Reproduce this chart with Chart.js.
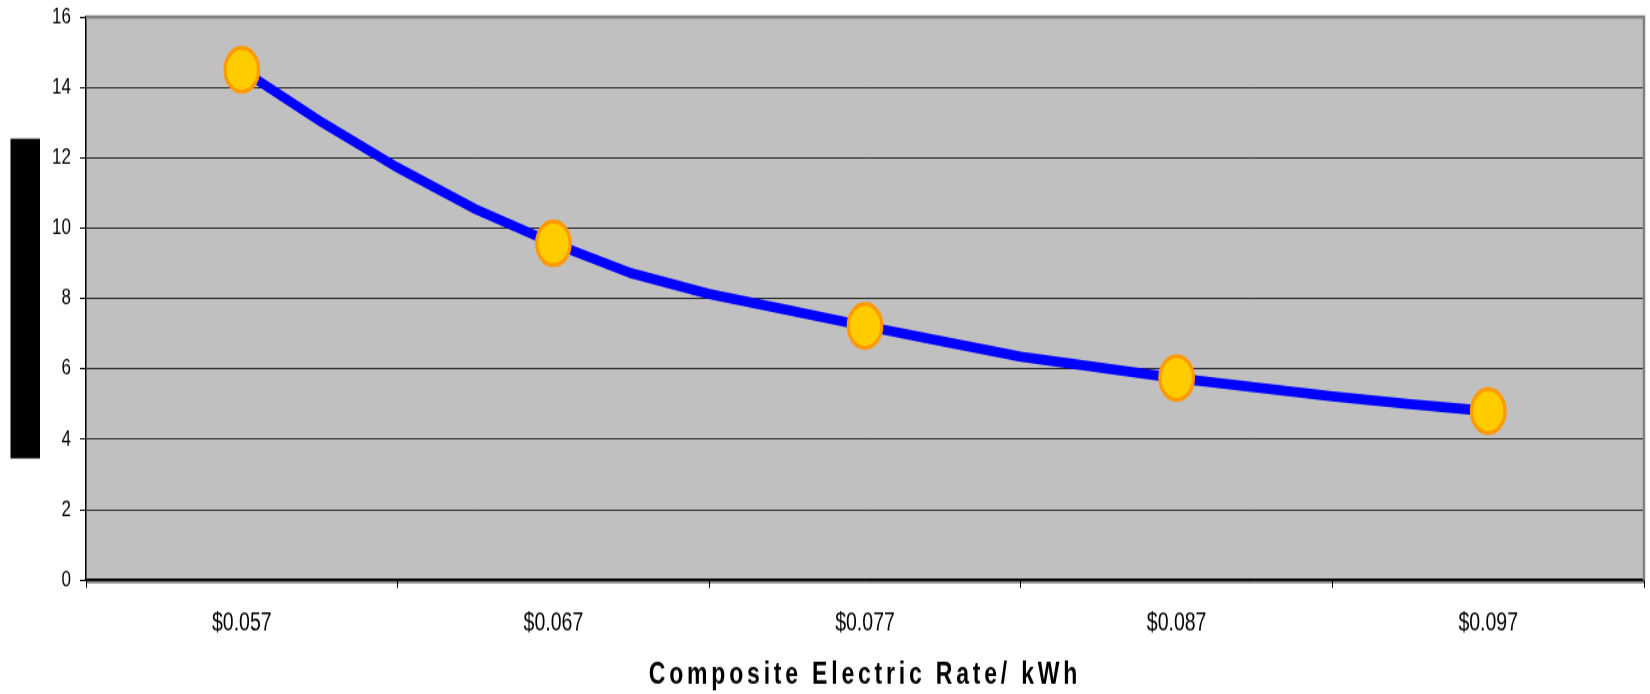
<!DOCTYPE html>
<html>
<head>
<meta charset="utf-8">
<script src="https://cdn.jsdelivr.net/npm/chart.js@4.4.1/dist/chart.umd.min.js"></script>
<style>
  html { overflow: hidden; }
  body { margin: 0; padding: 0; background: #fff; width: 1650px; height: 694px; }
  /* the source picture is stretched tall, so the chart is drawn flat and stretched */
  #wrap { width: 1650px; height: 540px; transform: scaleY(1.3); transform-origin: 0 0; }
  #chart { display: block; width: 1650px; height: 540px; }
</style>
</head>
<body>
<div id="wrap"><canvas id="chart" width="1650" height="540"></canvas></div>
<script>
// rate per kWh for every point of the line
const rates = [0.057, 0.0595, 0.062, 0.0645, 0.067, 0.0695, 0.072, 0.0745, 0.077,
               0.0795, 0.082, 0.0845, 0.087, 0.0895, 0.092, 0.0945, 0.097];
const values = [14.5, 13.05, 11.72, 10.54, 9.57, 8.72, 8.13, 7.68, 7.22,
                6.78, 6.35, 6.04, 5.74, 5.48, 5.22, 5.0, 4.8];

// rates that carry a marker and a label
const markerRates = [0.057, 0.067, 0.077, 0.087, 0.097];
const rateLabels = ["$0.057", "$0.067", "$0.077", "$0.087", "$0.097"];
// tick marks between the labels
const boundaryRates = [0.052, 0.062, 0.072, 0.082, 0.092, 0.102];

const yMin = 0;
const yMax = 16;
const yStep = 2;

const FONT = "'Liberation Sans', Arial, sans-serif";

const markerIndex = (v) => markerRates.findIndex(r => Math.abs(r - v) < 1e-9);

// gray plot area, frame and the black box where the y title sits
const plotFrame = {
  id: "plotFrame",
  beforeDraw(chart) {
    const { ctx, chartArea: a } = chart;
    ctx.save();
    ctx.fillStyle = "#c0c0c0";
    ctx.fillRect(a.left, a.top, a.right - a.left, a.bottom - a.top);
    ctx.strokeStyle = "#808080";
    ctx.lineWidth = 2;
    ctx.beginPath();
    ctx.moveTo(a.left, a.bottom + 1.5);
    ctx.lineTo(a.right, a.bottom + 1.5);
    ctx.stroke();

    const h = (a.bottom - a.top) * 0.568;
    ctx.fillStyle = "#000";
    ctx.fillRect(10.5, (a.top + a.bottom) / 2 - h / 2, 29.5, h);
    ctx.restore();

    // spaced-out letters for the x title only
    const xs = chart.scales.x;
    if (!xs._spacedTitle) {
      const drawTitle = xs.drawTitle.bind(xs);
      xs.drawTitle = () => {
        chart.ctx.save();
        chart.ctx.letterSpacing = "3.8px";
        drawTitle();
        chart.ctx.restore();
      };
      xs._spacedTitle = true;
    }
  },
  beforeDatasetsDraw(chart) {
    const { ctx, chartArea: a } = chart;
    ctx.save();
    ctx.strokeStyle = "#808080";
    ctx.lineWidth = 2.5;
    ctx.beginPath();
    ctx.moveTo(a.left, a.top);
    ctx.lineTo(a.right, a.top);
    ctx.lineTo(a.right, a.bottom);
    ctx.stroke();
    ctx.restore();
  }
};

new Chart(document.getElementById("chart"), {
  type: "line",
  data: {
    datasets: [{
      data: rates.map((r, i) => ({ x: r, y: values[i] })),
      borderColor: "#0000ff",
      borderWidth: 7.8,
      tension: 0,
      pointRadius: (c) => markerIndex(rates[c.dataIndex]) >= 0 ? 16.8 : 0,
      pointBackgroundColor: "#ffcc00",
      pointBorderColor: "#ff9900",
      pointBorderWidth: 3.2
    }]
  },
  options: {
    responsive: false,
    animation: false,
    events: [],
    devicePixelRatio: 1,
    layout: { autoPadding: false, padding: { left: 43.1, right: 0, top: 0, bottom: 0 } },
    plugins: {
      legend: { display: false },
      tooltip: { enabled: false }
    },
    scales: {
      x: {
        type: "linear",
        min: boundaryRates[0],
        max: boundaryRates[boundaryRates.length - 1],
        afterBuildTicks: (axis) => {
          axis.ticks = boundaryRates.concat(markerRates)
            .sort((a, b) => a - b)
            .map(v => ({ value: v }));
        },
        grid: {
          drawOnChartArea: false,
          tickLength: 6,
          lineWidth: 1,
          tickColor: (c) => markerIndex(c.tick.value) >= 0 ? "rgba(0,0,0,0)" : "#000"
        },
        border: { color: "#000", width: 1.5 },
        ticks: {
          autoSkip: false,
          maxRotation: 0,
          padding: 6,
          color: "#000",
          font: { family: FONT, size: 19.5, lineHeight: 2.164 },
          callback: (v) => {
            const i = markerIndex(v);
            return i >= 0 ? rateLabels[i] : "";
          }
        },
        title: {
          display: true,
          text: "Composite Electric Rate/ kWh",
          color: "#000",
          font: { family: FONT, size: 23, weight: "bold", lineHeight: 1 },
          padding: { top: 2, bottom: 8.6 }
        }
      },
      y: {
        min: yMin,
        max: yMax,
        ticks: {
          stepSize: yStep,
          padding: 9,
          color: "#000",
          font: { family: FONT, size: 17, lineHeight: 0.48 }
        },
        grid: {
          color: "#000",
          lineWidth: 0.8,
          tickLength: 6,
          tickColor: "#000",
          tickWidth: 1
        },
        border: { color: "#000", width: 1.5 }
      }
    }
  },
  plugins: [plotFrame]
});
</script>
</body>
</html>
